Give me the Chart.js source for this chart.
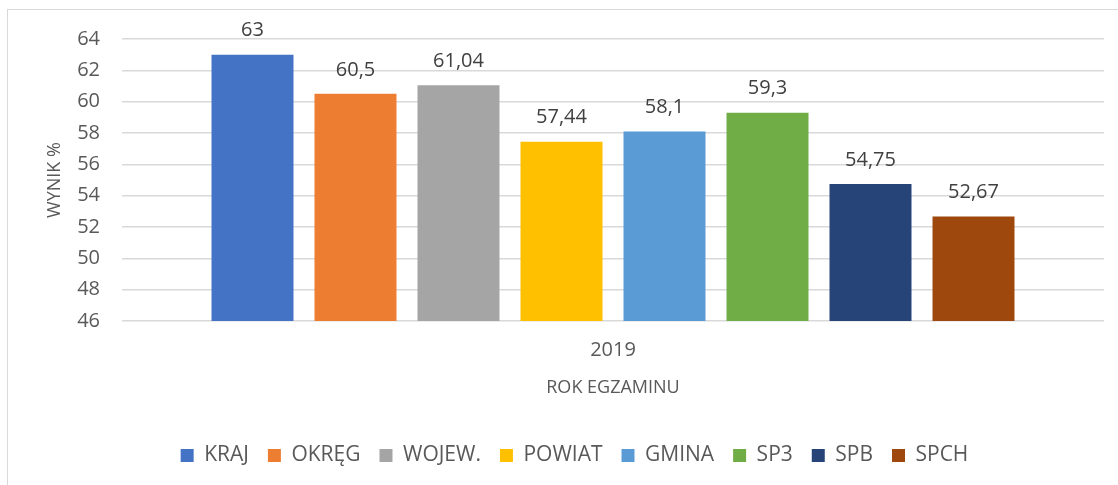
<!DOCTYPE html>
<html>
<head>
<meta charset="utf-8">
<script src="https://cdn.jsdelivr.net/npm/chart.js@4/dist/chart.umd.min.js"></script>
<style>
  html, body { margin: 0; padding: 0; background: #ffffff; overflow: hidden; width: 1118px; height: 485px; }
  #frame { position: absolute; left: 7px; top: 9px; width: 1300px; height: 700px; border: 1.5px solid #d9d9d9; box-sizing: border-box; }
  #c { position: absolute; left: 0; top: 0; }
</style>
</head>
<body>
<div id="frame"></div>
<canvas id="c" width="1118" height="476"></canvas>
<script>
const categories = ['2019'];
const seriesNames = ['KRAJ', 'OKRĘG', 'WOJEW.', 'POWIAT', 'GMINA', 'SP3', 'SPB', 'SPCH'];
const seriesValues = [63, 60.5, 61.04, 57.44, 58.1, 59.3, 54.75, 52.67];
const seriesColors = ['#4472C4', '#ED7D31', '#A5A5A5', '#FFC000', '#5B9BD5', '#70AD47', '#264478', '#9E480E'];
const yMin = 46, yMax = 64, yStep = 2;
const yTitle = 'WYNIK %';
const xTitle = 'ROK EGZAMINU';

const FONT = "'Open Sans', 'Liberation Sans', sans-serif";

const datasets = seriesNames.map((name, i) => ({
  label: name,
  data: [seriesValues[i]],
  backgroundColor: seriesColors[i],
  borderWidth: 0
}));

const valueLabels = {
  id: 'valueLabels',
  afterDatasetsDraw(chart) {
    const ctx = chart.ctx;
    ctx.save();
    ctx.font = '20px ' + FONT;
    ctx.fillStyle = '#404040';
    ctx.textAlign = 'center';
    ctx.textBaseline = 'middle';
    chart.data.datasets.forEach((ds, i) => {
      const meta = chart.getDatasetMeta(i);
      meta.data.forEach((el, j) => {
        const txt = String(ds.data[j]).replace('.', ',');
        ctx.fillText(txt, el.x, el.y - 24);
      });
    });
    ctx.restore();
  }
};

new Chart(document.getElementById('c'), {
  type: 'bar',
  data: { labels: categories, datasets },
  options: {
    responsive: false,
    animation: false,
    layout: { padding: { left: 45, right: 14, top: 39, bottom: 0 } },
    datasets: { bar: { categoryPercentage: 0.8391, barPercentage: 0.796 } },
    plugins: {
      legend: {
        position: 'bottom',
        labels: {
          boxWidth: 13,
          boxHeight: 13,
          padding: 19,
          color: '#595959',
          font: { family: FONT, size: 21 }
        }
      },
      tooltip: { enabled: false }
    },
    scales: {
      x: {
        grid: { display: false },
        border: { display: false },
        ticks: { color: '#595959', padding: 9, font: { family: FONT, size: 20 } },
        title: { display: true, text: xTitle, color: '#595959', padding: { top: 0, bottom: 27 }, font: { family: FONT, size: 18 } },
        afterFit(scale) { scale.height = 105; }
      },
      y: {
        min: yMin,
        max: yMax,
        ticks: { stepSize: yStep, color: '#595959', padding: 22, font: { family: FONT, size: 20 } },
        grid: { color: '#d9d9d9', lineWidth: 1.5, drawTicks: false },
        border: { display: false },
        title: { display: true, text: yTitle, color: '#595959', padding: 0, font: { family: FONT, size: 18, lineHeight: 1.1 } },
        afterFit(scale) { scale.width = 77; }
      }
    }
  },
  plugins: [valueLabels]
});
</script>
</body>
</html>
